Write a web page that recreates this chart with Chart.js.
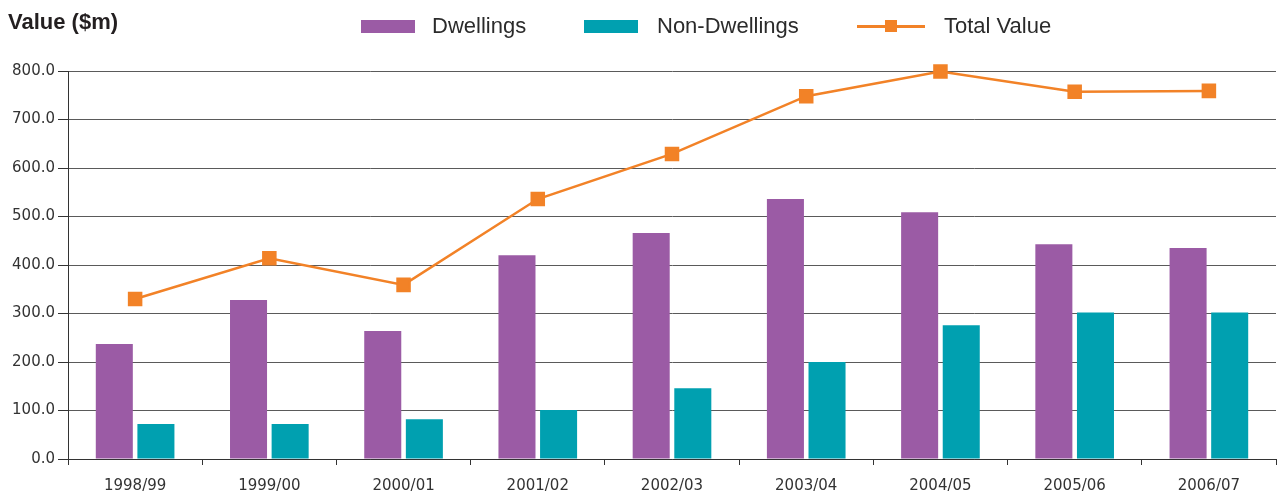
<!DOCTYPE html>
<html>
<head>
<meta charset="utf-8">
<script src="https://cdn.jsdelivr.net/npm/chart.js@4/dist/chart.umd.min.js"></script>
<style>
  html, body { margin: 0; padding: 0; background: #fff; }
  body { width: 1278px; height: 492px; position: relative; overflow: hidden; font-family: "Liberation Sans", Arial, sans-serif; color: #2b2b2b; }
  #wrap { position: absolute; left: 0; top: 0; width: 1278px; height: 492px; }
  .title { position: absolute; left: 8px; top: 9px; font-size: 22px; font-weight: bold; color: #231f20; }
  .lg { position: absolute; font-size: 22px; top: 13px; color: #2b2b2b; }
  .sw { position: absolute; width: 54px; height: 13px; top: 20px; }
  .ln { position: absolute; left: 857px; top: 25px; width: 68px; height: 3px; background: #f28227; }
  .mk { position: absolute; left: 885px; top: 20px; width: 12px; height: 12px; background: #f28227; }
</style>
</head>
<body>
<div id="wrap"><canvas id="chart" width="1278" height="492"></canvas></div>
<div class="title">Value ($m)</div>
<div class="sw" style="left:361px;background:#9b5ba5"></div>
<div class="lg" style="left:432px">Dwellings</div>
<div class="sw" style="left:584px;background:#00a0b0"></div>
<div class="lg" style="left:657px">Non-Dwellings</div>
<div class="ln"></div><div class="mk"></div>
<div class="lg" style="left:944px">Total Value</div>
<script>
const categories = ["1998/99", "1999/00", "2000/01", "2001/02", "2002/03", "2003/04", "2004/05", "2005/06", "2006/07"];
const dwellings = [237, 328, 264, 420, 466, 536, 509, 443, 435];
const nonDwellings = [72, 72, 82, 101, 146, 200, 276, 302, 302];
const totalValue = [330, 414, 359, 536, 629, 748, 799, 757, 759];

const tickFont = { family: "DejaVu Sans", size: 15 };

new Chart(document.getElementById("chart").getContext("2d"), {
  type: "bar",
  data: {
    labels: categories,
    datasets: [
      {
        type: "line",
        label: "Total Value",
        data: totalValue,
        borderColor: "#f28227",
        backgroundColor: "#f28227",
        borderWidth: 2.5,
        pointStyle: "rect",
        pointRadius: 8.5,
        pointHoverRadius: 8.5,
        tension: 0,
        clip: false,
        order: 0
      },
      {
        label: "Dwellings",
        data: dwellings,
        backgroundColor: "#9b5ba5",
        categoryPercentage: 0.62,
        barPercentage: 0.89,
        order: 1
      },
      {
        label: "Non-Dwellings",
        data: nonDwellings,
        backgroundColor: "#00a0b0",
        categoryPercentage: 0.62,
        barPercentage: 0.89,
        order: 1
      }
    ]
  },
  options: {
    responsive: false,
    animation: false,
    layout: { autoPadding: false, padding: { top: 71, right: 2, left: 0, bottom: 0 } },
    plugins: {
      legend: { display: false },
      tooltip: { enabled: false }
    },
    scales: {
      x: {
        grid: { display: true, drawOnChartArea: false, drawTicks: true, tickLength: 6, offset: true, color: "#333" },
        border: { color: "#333", width: 1 },
        ticks: { font: tickFont, color: "#333", padding: 12, maxRotation: 0 },
        afterFit: s => { s.height = 33; s.paddingLeft = 0; s.paddingRight = 0; }
      },
      y: {
        min: 0,
        max: 800,
        grid: { color: "#5a5a5a", lineWidth: 1, tickLength: 10, tickColor: "#333" },
        border: { color: "#333", width: 1 },
        ticks: { stepSize: 100, font: tickFont, color: "#333", padding: 3, callback: v => v.toFixed(1) },
        afterFit: s => { s.width = 68; s.paddingTop = 0; s.paddingBottom = 0; }
      }
    }
  }
});
</script>
</body>
</html>
